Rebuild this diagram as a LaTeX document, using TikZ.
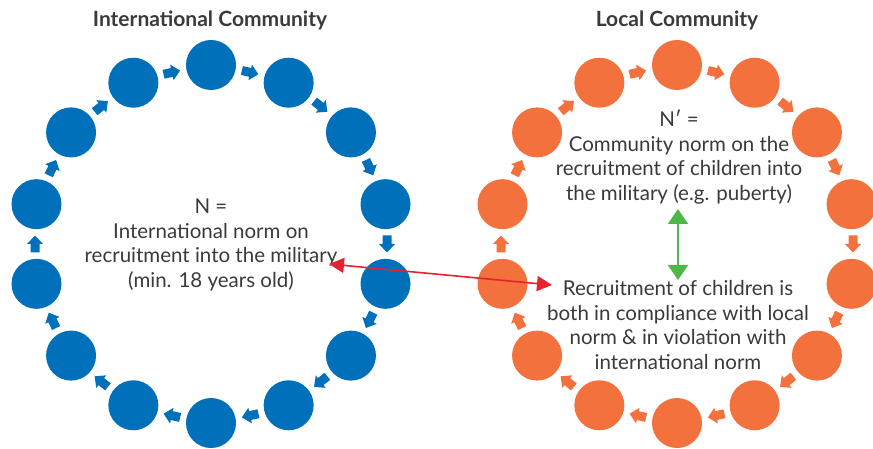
\documentclass[tikz,border=0pt]{standalone}
\usepackage{fontspec}
\setmainfont{Lato}
\usetikzlibrary{arrows.meta,calc}
\definecolor{cblue}{HTML}{0070BB}
\definecolor{corange}{HTML}{F3713C}
\definecolor{ctext}{HTML}{3A3A3A}
\definecolor{cgreen}{HTML}{4DB848}
\definecolor{cred}{HTML}{E8212F}
\begin{document}
\begin{tikzpicture}[x=1pt,y=-1pt,
  dot/.style={circle,inner sep=0pt,minimum size=50pt,fill=#1},
  title/.style={font=\fontsize{21}{24}\selectfont\bfseries,text=ctext},
  body/.style={font=\fontsize{20.5}{24.5}\selectfont,text=ctext,align=center},
  link/.style={line width=1.6pt,draw=cred,{Triangle[width=15pt,length=15pt]}-{Triangle[width=15pt,length=15pt]}},
  glink/.style={line width=2pt,draw=cgreen,{Triangle[width=20pt,length=15pt]}-{Triangle[width=20pt,length=15pt]}},
  pics/blockarrow/.style={code={
    \fill[#1] (-8.5pt,-4.5pt) -- (0pt,-4.5pt) -- (0pt,-8pt) -- (8.5pt,0pt)
      -- (0pt,8pt) -- (0pt,4.5pt) -- (-8.5pt,4.5pt) -- cycle;}}
]
\useasboundingbox (0,0) rectangle (873,449);
% rings
\foreach \cx/\col/\nm in {211/cblue/L,677/corange/R}{
  \foreach \k in {0,...,13}{
    \pgfmathsetmacro{\a}{90-\k*360/14}
    \node[dot=\col] (\nm c\k) at ({\cx+179*cos(\a)},{244-179*sin(\a)}) {};
    \pgfmathsetmacro{\b}{\a-180/14}
    \pgfmathsetmacro{\r}{\b-90}
    \pic[rotate=\r] (\nm a\k) at ({\cx+176*cos(\b)},{244-176*sin(\b)}) {blockarrow=\col};
  }
}
% titles
\node[title] (tl) at (210,20) {International Community};
\node[title] (tr) at (677,20) {Local Community};
% texts
\node[body] (nl) at (211,245) {N =\\International norm on\\recruitment into the military\\(min. 18 years old)};
\node[body] (nr) at (679,157) {N′ =\\Community norm on the\\recruitment of children into\\the military (e.g. puberty)};
\node[body] (rc) at (678,325) {Recruitment of children is\\both in compliance with local\\norm \& in violation with\\international norm};
% connectors
\coordinate (rl) at (329,264);
\coordinate (rr) at (552,285);
\draw[link] (rl) -- (rr);
\coordinate (gt) at (678,209);
\coordinate (gb) at (678,280);
\draw[glink] (gt) -- (gb);
\end{tikzpicture}
\end{document}
